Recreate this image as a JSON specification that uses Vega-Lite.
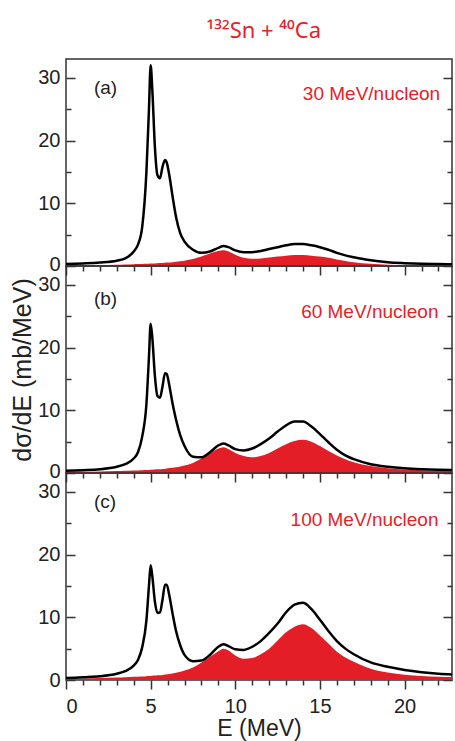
{
  "$schema": "https://vega.github.io/schema/vega-lite/v6.json",
  "background": "white",
  "padding": {"left": 10, "top": 20, "right": 0, "bottom": 0},
  "bounds": "flush",
  "spacing": 0,
  "title": {"text": "¹³²Sn + ⁴⁰Ca", "color": "#e8202a", "fontSize": 22, "font": "Noto Sans", "fontWeight": "normal", "anchor": "middle", "offset": 15, "dx": 32},
  "config": {
    "view": {"stroke": "#333", "strokeWidth": 1.5},
    "axis": {"domain": false, "grid": false, "tickColor": "#333", "tickWidth": 1.5, "labelFont": "Liberation Sans", "labelFontSize": 20, "labelColor": "#222", "titleFont": "Liberation Sans", "titleFontSize": 23, "titleFontWeight": "normal", "titleColor": "#222"},
    "text": {"font": "Liberation Sans"}
  },
  "datasets": {
    "a": [
      {"E": 0, "total": 0.3, "part": 0.1}, {"E": 1, "total": 0.4, "part": 0.12}, {"E": 2, "total": 0.55, "part": 0.15},
      {"E": 3, "total": 0.85, "part": 0.2}, {"E": 3.5, "total": 1.2, "part": 0.24}, {"E": 4, "total": 2.3, "part": 0.28},
      {"E": 4.25, "total": 3.4, "part": 0.3}, {"E": 4.5, "total": 6.2, "part": 0.32}, {"E": 4.75, "total": 15, "part": 0.35},
      {"E": 4.9, "total": 25, "part": 0.37}, {"E": 5.0, "total": 32, "part": 0.38}, {"E": 5.1, "total": 28, "part": 0.39},
      {"E": 5.25, "total": 19, "part": 0.41}, {"E": 5.4, "total": 14.5, "part": 0.43}, {"E": 5.55, "total": 14, "part": 0.46},
      {"E": 5.7, "total": 15.8, "part": 0.48}, {"E": 5.85, "total": 16.9, "part": 0.51}, {"E": 5.95, "total": 16.5, "part": 0.54},
      {"E": 6.1, "total": 14.5, "part": 0.57}, {"E": 6.3, "total": 11, "part": 0.61}, {"E": 6.5, "total": 7.8, "part": 0.66},
      {"E": 6.75, "total": 5.2, "part": 0.75}, {"E": 7, "total": 3.9, "part": 0.85}, {"E": 7.5, "total": 2.6, "part": 1.1},
      {"E": 8, "total": 2.1, "part": 1.5}, {"E": 8.5, "total": 2.3, "part": 2.0}, {"E": 9, "total": 2.9, "part": 2.4},
      {"E": 9.3, "total": 3.2, "part": 2.5}, {"E": 9.6, "total": 3.0, "part": 2.3}, {"E": 10, "total": 2.5, "part": 1.8},
      {"E": 10.5, "total": 2.2, "part": 1.3}, {"E": 11, "total": 2.2, "part": 1.15}, {"E": 11.5, "total": 2.4, "part": 1.2},
      {"E": 12, "total": 2.7, "part": 1.35}, {"E": 12.5, "total": 3.0, "part": 1.5}, {"E": 13, "total": 3.3, "part": 1.65},
      {"E": 13.5, "total": 3.5, "part": 1.75}, {"E": 14, "total": 3.5, "part": 1.75}, {"E": 14.5, "total": 3.3, "part": 1.65},
      {"E": 15, "total": 3.0, "part": 1.5}, {"E": 15.5, "total": 2.6, "part": 1.3}, {"E": 16, "total": 2.1, "part": 1.05},
      {"E": 16.5, "total": 1.7, "part": 0.8}, {"E": 17, "total": 1.4, "part": 0.6}, {"E": 18, "total": 0.9, "part": 0.35},
      {"E": 19, "total": 0.6, "part": 0.2}, {"E": 20, "total": 0.45, "part": 0.12}, {"E": 21, "total": 0.35, "part": 0.08},
      {"E": 22, "total": 0.3, "part": 0.06}, {"E": 23, "total": 0.25, "part": 0.05}
    ],
    "b": [
      {"E": 0, "total": 0.35, "part": 0.15}, {"E": 1, "total": 0.45, "part": 0.18}, {"E": 2, "total": 0.6, "part": 0.22},
      {"E": 3, "total": 1.0, "part": 0.3}, {"E": 3.5, "total": 1.4, "part": 0.34}, {"E": 4, "total": 2.3, "part": 0.38},
      {"E": 4.25, "total": 3.3, "part": 0.41}, {"E": 4.5, "total": 5.8, "part": 0.44}, {"E": 4.75, "total": 11, "part": 0.47},
      {"E": 4.9, "total": 18.5, "part": 0.49}, {"E": 5.0, "total": 23.8, "part": 0.5}, {"E": 5.1, "total": 21.5, "part": 0.52},
      {"E": 5.25, "total": 15.5, "part": 0.55}, {"E": 5.4, "total": 12.3, "part": 0.58}, {"E": 5.55, "total": 12, "part": 0.61},
      {"E": 5.7, "total": 13.8, "part": 0.65}, {"E": 5.85, "total": 15.9, "part": 0.69}, {"E": 5.95, "total": 15.8, "part": 0.73},
      {"E": 6.1, "total": 14, "part": 0.78}, {"E": 6.3, "total": 11, "part": 0.85}, {"E": 6.5, "total": 8.5, "part": 0.93},
      {"E": 6.75, "total": 6.0, "part": 1.05}, {"E": 7, "total": 4.3, "part": 1.2}, {"E": 7.5, "total": 2.6, "part": 1.6},
      {"E": 8, "total": 2.5, "part": 2.3}, {"E": 8.5, "total": 3.3, "part": 3.1}, {"E": 9, "total": 4.4, "part": 3.9},
      {"E": 9.3, "total": 4.7, "part": 4.1}, {"E": 9.6, "total": 4.4, "part": 3.8}, {"E": 10, "total": 3.8, "part": 3.2},
      {"E": 10.5, "total": 3.6, "part": 2.7}, {"E": 11, "total": 3.9, "part": 2.5}, {"E": 11.5, "total": 4.6, "part": 2.7},
      {"E": 12, "total": 5.5, "part": 3.2}, {"E": 12.5, "total": 6.6, "part": 3.9}, {"E": 13, "total": 7.6, "part": 4.6},
      {"E": 13.5, "total": 8.2, "part": 5.1}, {"E": 14, "total": 8.2, "part": 5.3}, {"E": 14.5, "total": 7.4, "part": 5.0},
      {"E": 15, "total": 6.2, "part": 4.3}, {"E": 15.5, "total": 4.9, "part": 3.5}, {"E": 16, "total": 3.7, "part": 2.8},
      {"E": 16.5, "total": 2.8, "part": 2.2}, {"E": 17, "total": 2.2, "part": 1.7}, {"E": 18, "total": 1.4, "part": 1.1},
      {"E": 19, "total": 1.0, "part": 0.75}, {"E": 20, "total": 0.75, "part": 0.55}, {"E": 21, "total": 0.6, "part": 0.45},
      {"E": 22, "total": 0.5, "part": 0.38}, {"E": 23, "total": 0.45, "part": 0.33}
    ],
    "c": [
      {"E": 0, "total": 0.3, "part": 0.2}, {"E": 1, "total": 0.45, "part": 0.25}, {"E": 2, "total": 0.6, "part": 0.3},
      {"E": 3, "total": 1.0, "part": 0.4}, {"E": 3.5, "total": 1.4, "part": 0.45}, {"E": 4, "total": 2.3, "part": 0.5},
      {"E": 4.25, "total": 3.2, "part": 0.53}, {"E": 4.5, "total": 5.2, "part": 0.56}, {"E": 4.75, "total": 9.5, "part": 0.6},
      {"E": 4.9, "total": 15, "part": 0.63}, {"E": 5.0, "total": 18.3, "part": 0.65}, {"E": 5.1, "total": 16.5, "part": 0.67},
      {"E": 5.25, "total": 12.5, "part": 0.7}, {"E": 5.4, "total": 10.7, "part": 0.74}, {"E": 5.55, "total": 10.8, "part": 0.77},
      {"E": 5.7, "total": 12.8, "part": 0.81}, {"E": 5.85, "total": 15.2, "part": 0.86}, {"E": 5.95, "total": 15.2, "part": 0.9},
      {"E": 6.1, "total": 13.5, "part": 0.95}, {"E": 6.3, "total": 10.5, "part": 1.05}, {"E": 6.5, "total": 7.8, "part": 1.15},
      {"E": 6.75, "total": 5.5, "part": 1.3}, {"E": 7, "total": 4.0, "part": 1.5}, {"E": 7.5, "total": 3.0, "part": 2.0},
      {"E": 8, "total": 3.1, "part": 2.8}, {"E": 8.5, "total": 4.0, "part": 3.7}, {"E": 9, "total": 5.3, "part": 4.6},
      {"E": 9.3, "total": 5.7, "part": 5.0}, {"E": 9.6, "total": 5.4, "part": 4.7}, {"E": 10, "total": 4.9, "part": 3.9},
      {"E": 10.5, "total": 4.8, "part": 3.4}, {"E": 11, "total": 5.3, "part": 3.5}, {"E": 11.5, "total": 6.2, "part": 4.1},
      {"E": 12, "total": 7.5, "part": 5.0}, {"E": 12.5, "total": 9.0, "part": 6.3}, {"E": 13, "total": 10.8, "part": 7.6},
      {"E": 13.5, "total": 12.0, "part": 8.5}, {"E": 14, "total": 12.3, "part": 8.9}, {"E": 14.5, "total": 11.3, "part": 8.3},
      {"E": 15, "total": 9.6, "part": 7.1}, {"E": 15.5, "total": 7.8, "part": 5.8}, {"E": 16, "total": 6.2, "part": 4.5},
      {"E": 16.5, "total": 5.0, "part": 3.6}, {"E": 17, "total": 4.1, "part": 2.9}, {"E": 18, "total": 2.8, "part": 1.8},
      {"E": 19, "total": 2.1, "part": 1.2}, {"E": 20, "total": 1.6, "part": 0.85}, {"E": 21, "total": 1.25, "part": 0.65},
      {"E": 22, "total": 1.0, "part": 0.52}, {"E": 23, "total": 0.85, "part": 0.45}
    ]
  },
  "vconcat": [
    {
      "width": 386, "height": 207,
      "data": {"name": "a"},
      "layer": [
        {"mark": {"type": "area", "color": "#e41e26", "clip": true, "interpolate": "monotone"},
         "encoding": {
           "x": {"field": "E", "type": "quantitative", "scale": {"domain": [0, 22.8], "nice": false, "zero": false}, "axis": {"orient": "bottom", "values": [0, 5, 10, 15, 20], "tickSize": 9, "labels": false, "title": null}},
           "y": {"field": "part", "type": "quantitative", "scale": {"domain": [0, 33], "nice": false}, "axis": {"orient": "left", "values": [0, 10, 20, 30], "tickSize": -9, "labelPadding": 15, "labelOffset": {"condition": {"test": "datum.value == 0", "value": -2}, "value": 0}, "title": null}}
         }},
        {"mark": {"type": "line", "color": "#000", "strokeWidth": 2.5, "clip": true, "interpolate": "monotone"},
         "encoding": {
           "x": {"field": "E", "type": "quantitative", "axis": {"orient": "bottom", "values": [1, 2, 3, 4, 6, 7, 8, 9, 11, 12, 13, 14, 16, 17, 18, 19, 21, 22], "tickSize": 5, "labels": false, "title": null}},
           "y": {"field": "total", "type": "quantitative", "axis": {"orient": "left", "values": [5, 15, 25], "tickSize": -5, "labels": false, "title": null}}
         }},
        {"data": {"values": [{}]},
         "mark": {"type": "text", "text": "(a)", "align": "left", "baseline": "middle", "fontSize": 19, "color": "#222"},
         "encoding": {
           "x": {"datum": 1.65, "type": "quantitative", "axis": null},
           "y": {"datum": 28.4, "type": "quantitative", "axis": {"orient": "right", "values": [0, 10, 20, 30], "tickSize": -9, "labels": false, "title": null}}
         }},
        {"data": {"values": [{}]},
         "mark": {"type": "text", "text": "30 MeV/nucleon", "align": "right", "baseline": "middle", "fontSize": 19, "color": "#e8202a"},
         "encoding": {
           "x": {"datum": 22.1, "type": "quantitative", "axis": null},
           "y": {"datum": 27.4, "type": "quantitative", "axis": {"orient": "right", "values": [5, 15, 25], "tickSize": -5, "labels": false, "title": null}}
         }}
      ],
      "resolve": {"axis": {"x": "independent", "y": "independent"}}
    },
    {
      "width": 386, "height": 207,
      "data": {"name": "b"},
      "layer": [
        {"mark": {"type": "area", "color": "#e41e26", "clip": true, "interpolate": "monotone"},
         "encoding": {
           "x": {"field": "E", "type": "quantitative", "scale": {"domain": [0, 22.8], "nice": false, "zero": false}, "axis": {"orient": "bottom", "values": [0, 5, 10, 15, 20], "tickSize": 9, "labels": false, "title": null}},
           "y": {"field": "part", "type": "quantitative", "scale": {"domain": [0, 33], "nice": false}, "axis": {"orient": "left", "values": [0, 10, 20, 30], "tickSize": -9, "labelPadding": 15, "labelOffset": {"condition": {"test": "datum.value == 0", "value": -2}, "value": 0}, "title": "dσ/dE (mb/MeV)", "titleFontSize": 25, "titlePadding": 2}}
         }},
        {"mark": {"type": "line", "color": "#000", "strokeWidth": 2.5, "clip": true, "interpolate": "monotone"},
         "encoding": {
           "x": {"field": "E", "type": "quantitative", "axis": {"orient": "bottom", "values": [1, 2, 3, 4, 6, 7, 8, 9, 11, 12, 13, 14, 16, 17, 18, 19, 21, 22], "tickSize": 5, "labels": false, "title": null}},
           "y": {"field": "total", "type": "quantitative", "axis": {"orient": "left", "values": [5, 15, 25], "tickSize": -5, "labels": false, "title": null}}
         }},
        {"data": {"values": [{}]},
         "mark": {"type": "text", "text": "(b)", "align": "left", "baseline": "middle", "fontSize": 19, "color": "#222"},
         "encoding": {
           "x": {"datum": 1.65, "type": "quantitative", "axis": null},
           "y": {"datum": 27.8, "type": "quantitative", "axis": {"orient": "right", "values": [0, 10, 20, 30], "tickSize": -9, "labels": false, "title": null}}
         }},
        {"data": {"values": [{}]},
         "mark": {"type": "text", "text": "60 MeV/nucleon", "align": "right", "baseline": "middle", "fontSize": 19, "color": "#e8202a"},
         "encoding": {
           "x": {"datum": 22.0, "type": "quantitative", "axis": null},
           "y": {"datum": 25.7, "type": "quantitative", "axis": {"orient": "right", "values": [5, 15, 25], "tickSize": -5, "labels": false, "title": null}}
         }}
      ],
      "resolve": {"axis": {"x": "independent", "y": "independent"}}
    },
    {
      "width": 386, "height": 207,
      "data": {"name": "c"},
      "layer": [
        {"mark": {"type": "area", "color": "#e41e26", "clip": true, "interpolate": "monotone"},
         "encoding": {
           "x": {"field": "E", "type": "quantitative", "scale": {"domain": [0, 22.8], "nice": false, "zero": false}, "axis": {"orient": "bottom", "values": [0, 5, 10, 15, 20], "tickSize": 9, "labelPadding": 7, "title": "E (MeV)", "titlePadding": 1}},
           "y": {"field": "part", "type": "quantitative", "scale": {"domain": [0, 33], "nice": false}, "axis": {"orient": "left", "values": [0, 10, 20, 30], "tickSize": -9, "labelPadding": 15, "title": null}}
         }},
        {"mark": {"type": "line", "color": "#000", "strokeWidth": 2.5, "clip": true, "interpolate": "monotone"},
         "encoding": {
           "x": {"field": "E", "type": "quantitative", "axis": {"orient": "bottom", "values": [1, 2, 3, 4, 6, 7, 8, 9, 11, 12, 13, 14, 16, 17, 18, 19, 21, 22], "tickSize": 5, "labels": false, "title": null}},
           "y": {"field": "total", "type": "quantitative", "axis": {"orient": "left", "values": [5, 15, 25], "tickSize": -5, "labels": false, "title": null}}
         }},
        {"data": {"values": [{}]},
         "mark": {"type": "text", "text": "(c)", "align": "left", "baseline": "middle", "fontSize": 19, "color": "#222"},
         "encoding": {
           "x": {"datum": 1.65, "type": "quantitative", "axis": null},
           "y": {"datum": 28.4, "type": "quantitative", "axis": {"orient": "right", "values": [0, 10, 20, 30], "tickSize": -9, "labels": false, "title": null}}
         }},
        {"data": {"values": [{}]},
         "mark": {"type": "text", "text": "100 MeV/nucleon", "align": "right", "baseline": "middle", "fontSize": 19, "color": "#e8202a"},
         "encoding": {
           "x": {"datum": 22.0, "type": "quantitative", "axis": null},
           "y": {"datum": 25.5, "type": "quantitative", "axis": {"orient": "right", "values": [5, 15, 25], "tickSize": -5, "labels": false, "title": null}}
         }}
      ],
      "resolve": {"axis": {"x": "independent", "y": "independent"}}
    }
  ]
}
